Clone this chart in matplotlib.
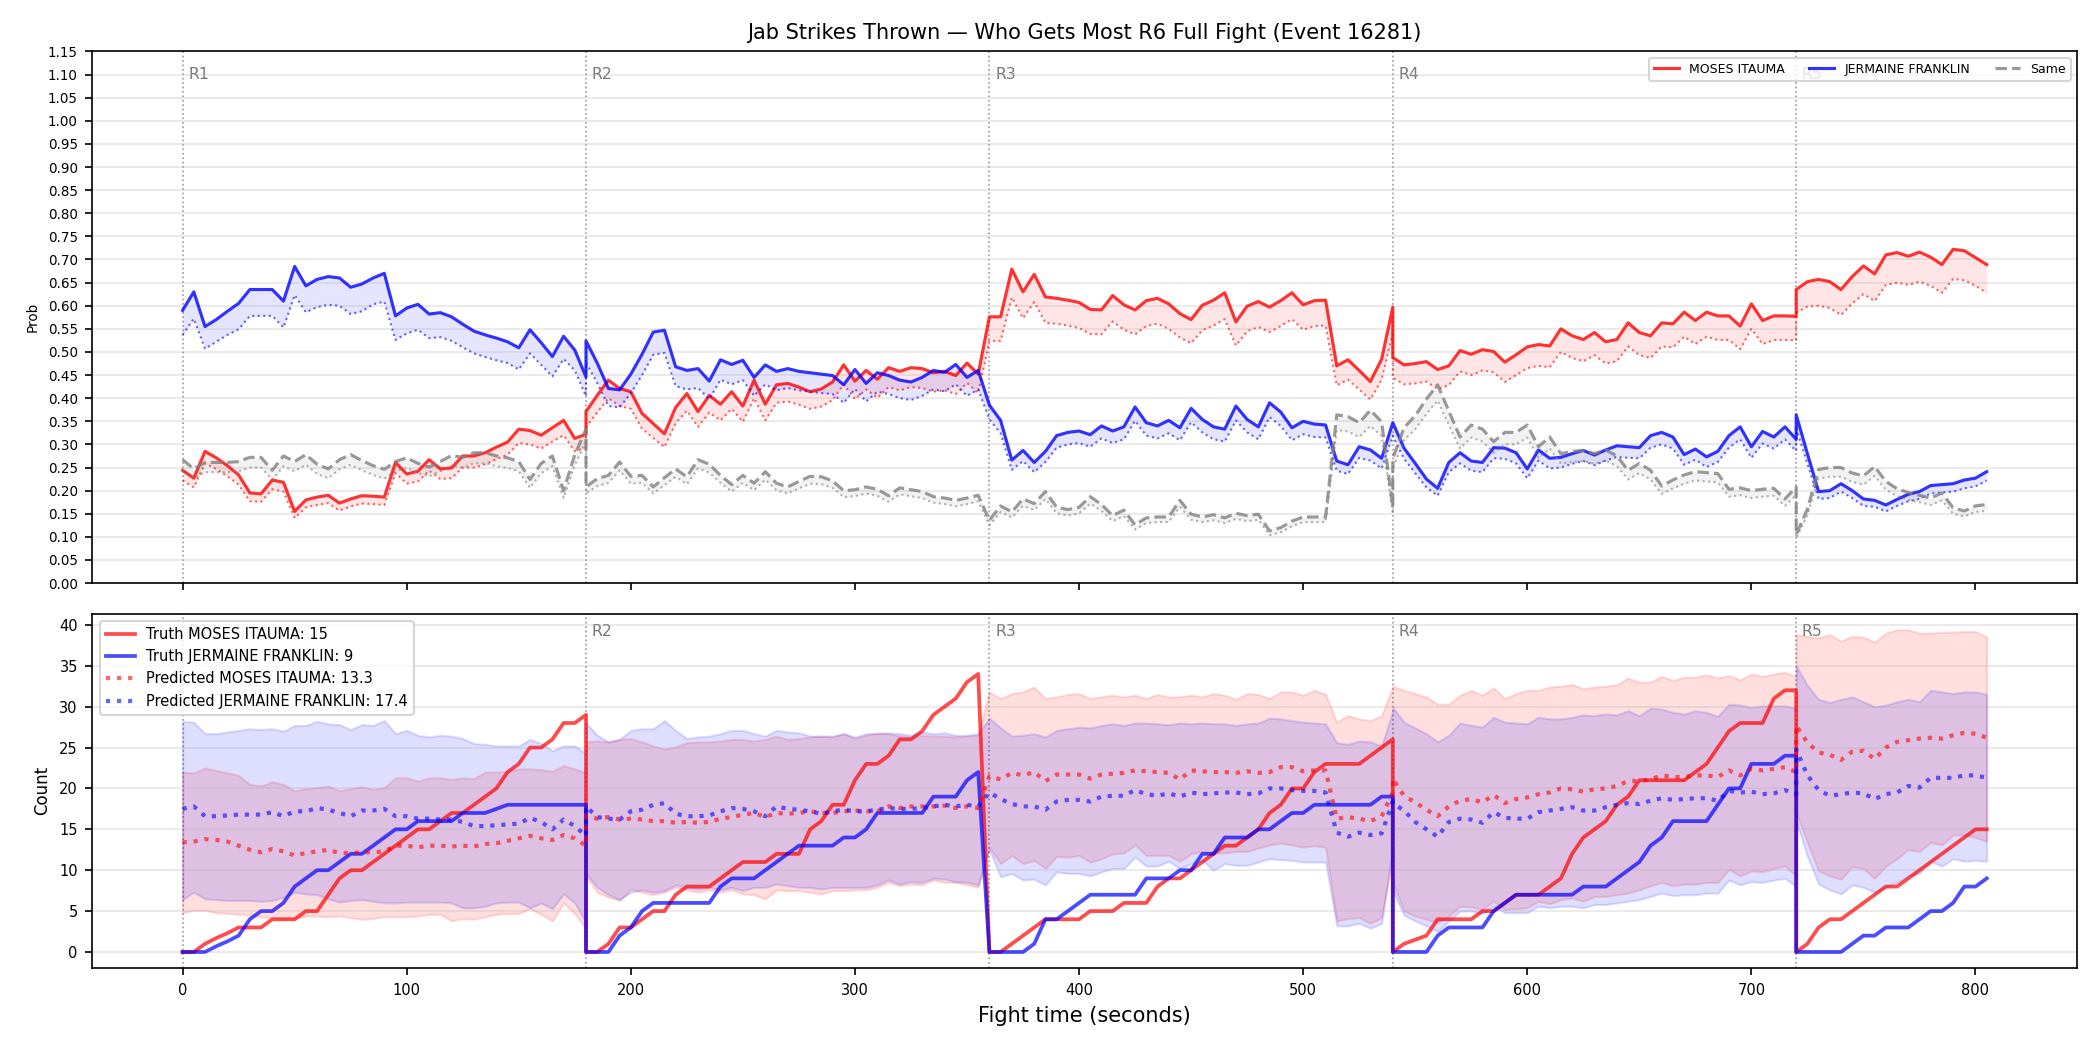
import numpy as np
import matplotlib
matplotlib.use("Agg")
import matplotlib.pyplot as plt
import matplotlib.transforms as mtransforms

title = "Jab Strikes Thrown \u2014 Who Gets Most R6 Full Fight (Event 16281)"
fighter_a = "MOSES ITAUMA"
fighter_b = "JERMAINE FRANKLIN"
final_truth_a, final_truth_b = 15, 9
final_pred_a, final_pred_b = 13.3, 17.4

# rounds start every 180 s, one sample every 5 s (round 2 stops at 355 s)
round_starts = [0, 180, 360, 540, 720]
round_sizes = [37, 36, 37, 37, 18]
step = 5

# ---- win probability (top panel) ----
prob_a = [
    # R1
    0.244, 0.227, 0.285, 0.271, 0.254, 0.234, 0.195, 0.193, 0.223, 0.218, 0.155, 0.180, 0.186,
    0.190, 0.173, 0.182, 0.189, 0.188, 0.186, 0.261, 0.236, 0.242, 0.267, 0.247, 0.249, 0.275,
    0.275, 0.282, 0.294, 0.305, 0.333, 0.330, 0.320, 0.336, 0.352, 0.313, 0.322,
    # R2
    0.371, 0.406, 0.439, 0.421, 0.414, 0.367, 0.345, 0.323, 0.380, 0.410, 0.371, 0.406, 0.387,
    0.414, 0.383, 0.439, 0.387, 0.429, 0.432, 0.424, 0.414, 0.420, 0.435, 0.472, 0.437, 0.460,
    0.441, 0.466, 0.458, 0.466, 0.464, 0.455, 0.458, 0.449, 0.476, 0.452,
    # R3
    0.576, 0.576, 0.679, 0.630, 0.668, 0.619, 0.616, 0.612, 0.607, 0.592, 0.591, 0.622, 0.602,
    0.591, 0.611, 0.616, 0.604, 0.583, 0.570, 0.601, 0.612, 0.628, 0.565, 0.599, 0.609, 0.597,
    0.611, 0.628, 0.602, 0.611, 0.612, 0.470, 0.483, 0.460, 0.436, 0.484, 0.597,
    # R4
    0.488, 0.472, 0.475, 0.479, 0.462, 0.470, 0.503, 0.495, 0.505, 0.501, 0.478, 0.494, 0.511,
    0.516, 0.513, 0.550, 0.535, 0.527, 0.542, 0.522, 0.527, 0.563, 0.542, 0.535, 0.563, 0.561,
    0.586, 0.568, 0.586, 0.578, 0.578, 0.556, 0.604, 0.568, 0.578, 0.578, 0.577,
    # R5
    0.635, 0.652, 0.657, 0.652, 0.635, 0.663, 0.686, 0.669, 0.710, 0.715, 0.707, 0.716, 0.705,
    0.689, 0.722, 0.719, 0.704, 0.689,
]
prob_a_low = [
    0.222, 0.207, 0.259, 0.247, 0.231, 0.213, 0.177, 0.176, 0.203, 0.198, 0.141, 0.164, 0.169,
    0.173, 0.157, 0.166, 0.172, 0.171, 0.169, 0.238, 0.215, 0.220, 0.243, 0.225, 0.227, 0.250,
    0.250, 0.257, 0.268, 0.278, 0.303, 0.300, 0.291, 0.306, 0.320, 0.285, 0.293,
    0.338, 0.369, 0.400, 0.383, 0.377, 0.334, 0.314, 0.294, 0.346, 0.373, 0.338, 0.369, 0.352,
    0.377, 0.349, 0.400, 0.352, 0.390, 0.393, 0.386, 0.377, 0.382, 0.396, 0.430, 0.398, 0.419,
    0.401, 0.424, 0.417, 0.424, 0.422, 0.414, 0.417, 0.409, 0.433, 0.411,
    0.524, 0.524, 0.618, 0.573, 0.608, 0.563, 0.561, 0.557, 0.552, 0.539, 0.538, 0.566, 0.548,
    0.538, 0.556, 0.561, 0.550, 0.531, 0.519, 0.547, 0.557, 0.571, 0.514, 0.545, 0.554, 0.543,
    0.556, 0.571, 0.548, 0.556, 0.557, 0.428, 0.440, 0.419, 0.397, 0.440, 0.543,
    0.444, 0.430, 0.432, 0.436, 0.420, 0.428, 0.458, 0.450, 0.460, 0.456, 0.435, 0.450, 0.465,
    0.470, 0.467, 0.500, 0.487, 0.480, 0.493, 0.475, 0.480, 0.512, 0.493, 0.487, 0.512, 0.510,
    0.533, 0.517, 0.533, 0.526, 0.526, 0.506, 0.550, 0.517, 0.526, 0.526, 0.525,
    0.585, 0.598, 0.600, 0.595, 0.580, 0.605, 0.625, 0.610, 0.645, 0.650, 0.645, 0.652, 0.643,
    0.628, 0.658, 0.655, 0.643, 0.628,
]
prob_b = [
    0.590, 0.630, 0.555, 0.570, 0.588, 0.605, 0.635, 0.635, 0.635, 0.610, 0.685, 0.643, 0.657,
    0.663, 0.660, 0.640, 0.647, 0.660, 0.670, 0.578, 0.595, 0.603, 0.582, 0.585, 0.576, 0.560,
    0.545, 0.537, 0.530, 0.522, 0.509, 0.548, 0.520, 0.490, 0.534, 0.504, 0.446,
    0.524, 0.476, 0.421, 0.418, 0.452, 0.495, 0.543, 0.547, 0.468, 0.460, 0.464, 0.437, 0.483,
    0.473, 0.482, 0.445, 0.472, 0.458, 0.464, 0.458, 0.455, 0.452, 0.449, 0.429, 0.462, 0.432,
    0.455, 0.449, 0.439, 0.435, 0.445, 0.460, 0.456, 0.473, 0.445, 0.460,
    0.385, 0.352, 0.266, 0.287, 0.261, 0.285, 0.319, 0.326, 0.329, 0.321, 0.340, 0.329, 0.338,
    0.381, 0.347, 0.340, 0.352, 0.336, 0.378, 0.354, 0.338, 0.333, 0.383, 0.354, 0.338, 0.390,
    0.370, 0.336, 0.350, 0.344, 0.342, 0.264, 0.256, 0.295, 0.288, 0.270, 0.347,
    0.347, 0.292, 0.259, 0.225, 0.205, 0.261, 0.282, 0.264, 0.261, 0.293, 0.292, 0.282, 0.247,
    0.288, 0.270, 0.272, 0.280, 0.287, 0.277, 0.288, 0.297, 0.295, 0.293, 0.319, 0.326, 0.316,
    0.278, 0.290, 0.273, 0.285, 0.319, 0.338, 0.295, 0.328, 0.316, 0.338, 0.311,
    0.364, 0.280, 0.198, 0.200, 0.215, 0.200, 0.182, 0.179, 0.169, 0.181, 0.192, 0.198, 0.211,
    0.213, 0.215, 0.223, 0.227, 0.241,
]
prob_b_low = [
    0.537, 0.572, 0.507, 0.522, 0.537, 0.549, 0.578, 0.578, 0.578, 0.553, 0.623, 0.586, 0.597,
    0.602, 0.600, 0.582, 0.588, 0.603, 0.609, 0.526, 0.540, 0.548, 0.530, 0.532, 0.524, 0.510,
    0.497, 0.489, 0.482, 0.476, 0.462, 0.497, 0.472, 0.447, 0.485, 0.460, 0.404,
    0.477, 0.433, 0.383, 0.380, 0.411, 0.450, 0.494, 0.498, 0.426, 0.419, 0.422, 0.398, 0.440,
    0.430, 0.439, 0.405, 0.430, 0.417, 0.422, 0.417, 0.414, 0.411, 0.409, 0.390, 0.420, 0.393,
    0.414, 0.409, 0.400, 0.396, 0.405, 0.419, 0.415, 0.430, 0.405, 0.419,
    0.354, 0.324, 0.245, 0.264, 0.240, 0.262, 0.293, 0.300, 0.303, 0.295, 0.313, 0.303, 0.311,
    0.351, 0.319, 0.313, 0.324, 0.309, 0.348, 0.326, 0.311, 0.306, 0.352, 0.326, 0.311, 0.359,
    0.340, 0.309, 0.322, 0.316, 0.315, 0.243, 0.236, 0.271, 0.265, 0.248, 0.319,
    0.319, 0.269, 0.238, 0.207, 0.189, 0.240, 0.259, 0.243, 0.240, 0.270, 0.269, 0.259, 0.227,
    0.265, 0.248, 0.250, 0.258, 0.264, 0.255, 0.265, 0.273, 0.271, 0.270, 0.293, 0.300, 0.291,
    0.256, 0.267, 0.251, 0.262, 0.293, 0.311, 0.271, 0.302, 0.291, 0.311, 0.286,
    0.335, 0.258, 0.182, 0.184, 0.198, 0.184, 0.167, 0.165, 0.155, 0.167, 0.177, 0.182, 0.194,
    0.196, 0.198, 0.205, 0.209, 0.222,
]
prob_same = [
    0.267, 0.247, 0.261, 0.261, 0.261, 0.263, 0.272, 0.272, 0.244, 0.275, 0.263, 0.278, 0.257,
    0.247, 0.267, 0.278, 0.265, 0.254, 0.246, 0.263, 0.271, 0.259, 0.251, 0.263, 0.276, 0.272,
    0.282, 0.282, 0.275, 0.271, 0.263, 0.224, 0.259, 0.275, 0.200, 0.278, 0.333,
    0.208, 0.226, 0.233, 0.262, 0.231, 0.233, 0.208, 0.228, 0.247, 0.230, 0.267, 0.257, 0.233,
    0.213, 0.233, 0.216, 0.241, 0.216, 0.208, 0.220, 0.231, 0.230, 0.221, 0.200, 0.202, 0.208,
    0.203, 0.189, 0.206, 0.202, 0.198, 0.187, 0.184, 0.179, 0.184, 0.190,
    0.136, 0.167, 0.154, 0.182, 0.172, 0.198, 0.164, 0.159, 0.164, 0.187, 0.170, 0.146, 0.158,
    0.126, 0.141, 0.143, 0.143, 0.179, 0.149, 0.143, 0.148, 0.141, 0.151, 0.146, 0.149, 0.113,
    0.120, 0.134, 0.143, 0.143, 0.143, 0.364, 0.360, 0.347, 0.374, 0.349, 0.165,
    0.270, 0.336, 0.362, 0.398, 0.429, 0.372, 0.316, 0.342, 0.333, 0.306, 0.326, 0.326, 0.342,
    0.295, 0.316, 0.280, 0.285, 0.287, 0.280, 0.288, 0.275, 0.244, 0.259, 0.244, 0.210, 0.223,
    0.234, 0.241, 0.239, 0.237, 0.203, 0.206, 0.200, 0.203, 0.205, 0.182, 0.208,
    0.105, 0.160, 0.246, 0.250, 0.250, 0.238, 0.232, 0.252, 0.220, 0.204, 0.196, 0.190, 0.184,
    0.195, 0.163, 0.156, 0.167, 0.170,
]
prob_same_low = [
    0.245, 0.227, 0.240, 0.240, 0.240, 0.242, 0.250, 0.250, 0.224, 0.253, 0.242, 0.256, 0.236,
    0.227, 0.246, 0.256, 0.244, 0.234, 0.226, 0.242, 0.249, 0.238, 0.231, 0.242, 0.254, 0.250,
    0.259, 0.259, 0.253, 0.249, 0.242, 0.206, 0.238, 0.253, 0.184, 0.256, 0.306,
    0.194, 0.210, 0.217, 0.244, 0.215, 0.217, 0.194, 0.212, 0.230, 0.214, 0.248, 0.239, 0.217,
    0.198, 0.217, 0.201, 0.224, 0.201, 0.194, 0.205, 0.215, 0.214, 0.206, 0.186, 0.188, 0.194,
    0.189, 0.176, 0.192, 0.188, 0.184, 0.174, 0.171, 0.166, 0.171, 0.177,
    0.125, 0.154, 0.142, 0.167, 0.158, 0.182, 0.151, 0.146, 0.151, 0.172, 0.156, 0.134, 0.145,
    0.116, 0.130, 0.132, 0.132, 0.165, 0.137, 0.132, 0.136, 0.130, 0.139, 0.134, 0.137, 0.104,
    0.110, 0.123, 0.132, 0.132, 0.132, 0.331, 0.328, 0.316, 0.340, 0.318, 0.150,
    0.248, 0.309, 0.333, 0.366, 0.395, 0.342, 0.291, 0.315, 0.306, 0.282, 0.300, 0.300, 0.315,
    0.271, 0.291, 0.258, 0.262, 0.264, 0.258, 0.265, 0.253, 0.224, 0.238, 0.224, 0.193, 0.205,
    0.215, 0.222, 0.220, 0.218, 0.187, 0.190, 0.184, 0.187, 0.189, 0.167, 0.191,
    0.097, 0.147, 0.226, 0.230, 0.230, 0.219, 0.213, 0.232, 0.202, 0.188, 0.180, 0.175, 0.169,
    0.179, 0.150, 0.144, 0.154, 0.156,
]

# ---- cumulative jab counts (bottom panel) ----
truth_a = [
    0, 0, 1, 1.7, 2.3, 3, 3, 3, 4, 4, 4, 5, 5, 7, 9, 10, 10, 11, 12, 13, 14, 15, 15, 16, 17, 17,
    18, 19, 20, 22, 23, 25, 25, 26, 28, 28, 29,
    0, 0, 1, 3, 3, 4, 5, 5, 7, 8, 8, 8, 9, 10, 11, 11, 11, 12, 12, 12, 15, 16, 18, 18, 21, 23,
    23, 24, 26, 26, 27, 29, 30, 31, 33, 34,
    0, 0, 1, 2, 3, 4, 4, 4, 4, 5, 5, 5, 6, 6, 6, 8, 9, 9, 10, 11, 12, 13, 13, 14, 15, 17, 18,
    20, 20, 22, 23, 23, 23, 23, 24, 25, 26,
    0, 1, 1.5, 2, 4, 4, 4, 4, 5, 5, 6, 7, 7, 7, 8, 9, 12, 14, 15, 16, 18, 19, 21, 21, 21, 21,
    21, 22, 23, 25, 27, 28, 28, 28, 31, 32, 32,
    0, 1, 3, 4, 4, 5, 6, 7, 8, 8, 9, 10, 11, 12, 13, 14, 15, 15,
]
truth_b = [
    0, 0, 0, 0.7, 1.3, 2, 4, 5, 5, 6, 8, 9, 10, 10, 11, 12, 12, 13, 14, 15, 15, 16, 16, 16, 16,
    17, 17, 17, 17.5, 18, 18, 18, 18, 18, 18, 18, 18,
    0, 0, 0, 2, 3, 5, 6, 6, 6, 6, 6, 6, 8, 9, 9, 9, 10, 11, 12, 13, 13, 13, 13, 14, 14, 15, 17,
    17, 17, 17, 17, 19, 19, 19, 21, 22,
    0, 0, 0, 0, 1, 4, 4, 5, 6, 7, 7, 7, 7, 7, 9, 9, 9, 10, 10, 12, 12, 14, 14, 14, 15, 15, 16,
    17, 17, 18, 18, 18, 18, 18, 18, 19, 19,
    0, 0, 0, 0, 2, 3, 3, 3, 3, 5, 6, 7, 7, 7, 7, 7, 7, 8, 8, 8, 9, 10, 11, 13, 14, 16, 16, 16,
    16, 18, 20, 20, 23, 23, 23, 24, 24,
    0, 0, 0, 0, 0, 1, 2, 2, 3, 3, 3, 4, 5, 5, 6, 8, 8, 9,
]
pred_a = [
    13.4, 13.5, 13.8, 13.7, 13.5, 13.0, 12.5, 12.2, 12.6, 12.3, 11.8, 12.1, 12.3, 12.5, 12.1,
    12.1, 12.2, 12.2, 12.3, 13.0, 13.0, 12.8, 13.0, 13.0, 12.9, 13.0, 12.9, 13.2, 13.3, 13.6,
    13.9, 14.2, 13.9, 13.7, 14.3, 13.9, 13.0,
    16.6, 16.3, 16.5, 16.2, 16.3, 16.2, 16.0, 16.0, 15.8, 15.9, 15.8, 15.9, 16.3, 16.5, 16.8,
    17.0, 16.5, 17.0, 16.9, 17.0, 17.2, 17.0, 17.0, 17.2, 17.3, 17.2, 17.2, 17.8, 17.6, 17.8,
    17.8, 17.8, 17.9, 17.6, 17.8, 17.6,
    21.5, 21.1, 21.9, 21.6, 22.0, 20.9, 21.7, 21.7, 21.7, 21.2, 21.7, 21.8, 21.9, 22.2, 22.1,
    22.0, 21.9, 21.1, 22.2, 22.1, 22.0, 22.0, 21.9, 22.1, 21.9, 22.0, 22.6, 22.6, 22.1, 22.2,
    22.2, 16.3, 16.5, 16.3, 16.0, 16.6, 19.5,
    21.2, 19.1, 18.3, 17.4, 16.6, 17.8, 18.5, 18.7, 18.3, 19.2, 18.2, 18.7, 18.9, 19.3, 19.5,
    20.0, 19.9, 19.6, 19.9, 20.0, 20.3, 20.9, 20.9, 21.1, 21.6, 21.4, 21.4, 21.6, 21.6, 21.4,
    22.2, 21.6, 22.4, 22.2, 22.4, 22.6, 22.0,
    27.7, 25.6, 24.4, 24.1, 23.5, 24.5, 24.6, 23.6, 25.0, 25.7, 25.9, 26.1, 26.2, 26.1, 26.5,
    26.8, 26.7, 26.2,
]
pred_b = [
    17.5, 17.8, 16.6, 16.6, 16.7, 16.8, 16.8, 16.8, 17.1, 16.6, 17.2, 17.2, 17.6, 17.4, 17.0,
    16.6, 17.3, 17.3, 17.5, 16.6, 16.6, 16.3, 16.3, 16.2, 16.2, 15.9, 15.4, 15.4, 15.5, 15.6,
    15.7, 16.4, 15.9, 15.0, 16.2, 15.4, 14.2,
    17.8, 16.5, 16.3, 16.2, 17.2, 17.4, 18.0, 18.2, 16.9, 16.6, 16.6, 16.7, 17.2, 17.6, 17.5,
    17.2, 16.6, 17.8, 17.5, 17.4, 17.2, 16.9, 17.2, 17.4, 17.2, 17.2, 17.4, 17.6, 17.5, 17.5,
    17.6, 17.8, 18.0, 17.8, 18.0, 17.8,
    19.5, 18.7, 18.1, 17.8, 17.8, 17.4, 18.4, 18.6, 18.6, 18.4, 19.0, 19.1, 19.1, 19.8, 19.3,
    19.1, 19.4, 19.0, 19.5, 19.3, 19.4, 19.5, 19.5, 19.3, 19.4, 20.0, 20.0, 19.8, 19.7, 19.7,
    19.5, 14.6, 14.1, 14.6, 14.3, 14.5, 18.4,
    18.2, 17.3, 15.9, 15.0, 14.1, 15.9, 16.3, 16.2, 15.8, 17.1, 16.4, 16.3, 16.3, 17.1, 17.3,
    17.5, 17.7, 17.3, 17.3, 17.7, 18.0, 18.2, 18.1, 18.5, 18.8, 18.6, 18.7, 18.8, 18.8, 18.5,
    19.7, 19.5, 19.6, 19.3, 19.4, 19.8, 19.3,
    24.8, 21.6, 19.8, 19.1, 19.3, 19.5, 19.4, 18.7, 19.3, 19.5, 20.3, 20.1, 21.3, 21.3, 21.3,
    21.6, 21.6, 21.3,
]
band_a_high = [
    22.0, 21.9, 22.5, 22.2, 21.9, 21.6, 20.5, 20.3, 20.8, 20.5, 19.7, 20.0, 20.1, 20.3, 19.7,
    20.0, 20.2, 19.9, 20.1, 21.3, 21.3, 20.9, 21.3, 21.3, 21.1, 21.3, 21.2, 22.0, 22.0, 22.1,
    22.4, 22.4, 22.3, 22.1, 22.8, 22.4, 21.9,
    25.7, 25.8, 25.7, 26.0, 26.1, 25.7, 25.2, 24.8, 25.1, 25.6, 25.7, 25.7, 25.8, 26.0, 26.0,
    25.8, 26.0, 26.4, 26.0, 26.1, 26.3, 26.4, 26.3, 26.7, 26.1, 26.5, 26.8, 26.7, 26.4, 26.3,
    26.5, 26.4, 26.4, 26.3, 26.4, 26.5,
    31.8, 31.0, 31.6, 31.8, 32.4, 31.0, 31.2, 31.5, 31.6, 31.0, 31.2, 31.4, 31.2, 31.4, 31.0,
    31.5, 31.2, 31.2, 31.4, 31.2, 31.6, 31.4, 30.9, 31.6, 31.5, 31.0, 31.8, 31.8, 31.4, 32.0,
    31.5, 28.1, 28.9, 28.5, 28.3, 28.9, 32.4,
    32.5, 32.0, 31.6, 31.2, 30.3, 30.3, 31.4, 32.0, 31.4, 32.3, 31.0, 31.6, 32.0, 32.0, 32.4,
    32.5, 32.7, 32.2, 32.4, 32.5, 32.7, 33.5, 33.0, 33.0, 33.7, 33.2, 33.6, 33.6, 33.9, 33.5,
    33.8, 33.3, 34.0, 33.7, 34.0, 34.2, 33.7,
    38.8, 38.6, 38.4, 38.8, 38.0, 38.6, 38.5, 37.9, 39.0, 39.4, 39.4, 39.0, 39.0, 39.1, 39.1,
    39.2, 39.2, 38.5,
]
band_a_low = [
    4.8, 5.1, 5.1, 4.8, 4.7, 4.6, 4.5, 4.3, 4.2, 4.1, 4.1, 4.4, 4.4, 4.3, 4.4, 4.2, 4.0, 4.1,
    4.3, 4.3, 4.3, 4.4, 4.6, 4.6, 3.8, 4.1, 4.0, 4.3, 4.6, 4.7, 4.7, 5.3, 4.6, 3.8, 6.0, 4.7, 2.8,
    9.3, 7.3, 6.7, 6.3, 7.7, 7.3, 7.0, 7.3, 7.9, 7.6, 7.3, 7.6, 7.3, 7.6, 7.1, 7.0, 6.5, 7.6,
    7.5, 7.5, 7.3, 7.1, 7.5, 7.5, 7.6, 7.6, 7.9, 8.5, 8.1, 8.3, 8.2, 8.8, 8.5, 8.5, 8.2, 7.9,
    12.8, 10.8, 11.8, 10.8, 11.2, 10.2, 11.7, 11.6, 11.8, 11.0, 11.4, 12.0, 12.1, 13.1, 11.8,
    11.8, 11.8, 11.1, 12.0, 12.3, 12.1, 12.1, 12.3, 12.3, 12.7, 13.1, 13.3, 13.1, 12.8, 13.0,
    12.8, 3.8, 4.1, 4.2, 3.5, 4.2, 11.7,
    8.5, 5.0, 4.4, 4.0, 3.6, 4.4, 5.6, 5.5, 5.2, 6.2, 5.2, 5.3, 5.4, 6.2, 5.9, 6.4, 6.6, 6.2,
    6.8, 6.8, 7.0, 7.2, 7.6, 8.1, 8.5, 8.1, 8.3, 8.3, 8.5, 8.5, 10.1, 9.3, 9.9, 9.8, 10.2, 10.5,
    9.3,
    17.0, 13.4, 9.9, 9.3, 8.9, 10.4, 10.2, 9.0, 10.5, 11.4, 12.5, 12.3, 13.4, 13.1, 14.3, 14.3,
    14.0, 13.5,
]
band_b_high = [
    28.2, 28.1, 26.7, 26.7, 26.9, 27.1, 27.3, 27.2, 27.3, 27.0, 27.7, 27.7, 28.2, 27.9, 27.8,
    27.2, 27.8, 27.7, 28.3, 26.7, 27.1, 26.5, 26.3, 26.5, 26.4, 26.1, 25.5, 25.4, 25.2, 25.2,
    25.2, 26.0, 25.5, 24.6, 25.2, 25.2, 24.2,
    28.0, 26.5, 25.7, 26.0, 27.1, 27.3, 27.3, 28.3, 27.1, 26.1, 26.3, 26.4, 26.7, 27.1, 27.1,
    26.7, 26.4, 27.1, 26.9, 26.8, 26.4, 26.4, 26.4, 26.7, 26.3, 26.7, 26.7, 26.8, 26.7, 26.5,
    26.9, 26.7, 26.8, 26.5, 26.5, 26.7,
    28.6, 27.4, 26.4, 26.5, 26.7, 26.3, 27.1, 27.3, 27.5, 27.4, 27.7, 27.9, 27.7, 28.0, 28.0,
    27.9, 27.8, 28.0, 27.9, 28.0, 27.9, 27.9, 27.7, 27.9, 28.0, 28.6, 28.5, 28.3, 28.1, 28.0,
    27.9, 25.6, 25.4, 25.8, 25.7, 25.2, 29.5,
    29.9, 28.1, 27.4, 26.7, 25.7, 26.5, 28.0, 27.7, 27.5, 28.7, 28.1, 28.0, 27.9, 28.7, 28.5,
    28.5, 28.7, 29.0, 28.9, 29.1, 29.0, 29.5, 28.9, 29.8, 29.7, 29.3, 29.1, 29.5, 29.3, 28.8,
    30.3, 30.2, 29.9, 30.1, 30.1, 30.1, 29.8,
    35.0, 32.6, 30.9, 30.5, 30.9, 31.2, 30.6, 30.0, 30.2, 30.6, 30.9, 30.6, 32.0, 31.8, 31.6,
    31.8, 31.8, 31.5,
]
band_b_low = [
    6.4, 7.3, 6.5, 6.4, 6.3, 6.3, 6.3, 6.2, 6.3, 6.7, 7.3, 7.1, 7.0, 6.5, 6.1, 6.3, 6.4, 6.2,
    6.0, 6.0, 6.1, 6.1, 6.1, 6.1, 6.0, 5.4, 5.4, 5.6, 6.0, 6.1, 6.1, 5.4, 6.0, 5.3, 7.1, 6.0, 3.6,
    9.6, 7.9, 7.0, 6.4, 7.3, 7.6, 7.3, 7.5, 8.2, 7.9, 7.7, 7.9, 7.6, 7.9, 7.5, 7.9, 7.9, 8.3,
    8.1, 7.9, 7.9, 7.7, 7.9, 7.9, 7.9, 7.9, 8.2, 8.8, 8.3, 8.6, 8.5, 9.0, 8.9, 8.6, 8.5, 8.2,
    12.5, 9.2, 9.6, 8.8, 8.9, 8.2, 9.8, 9.6, 9.6, 9.3, 9.8, 10.2, 10.2, 11.6, 10.5, 10.5, 11.1,
    10.2, 10.8, 11.2, 10.0, 10.8, 10.6, 10.6, 11.0, 11.4, 11.3, 11.2, 11.0, 11.0, 11.0, 3.2,
    3.2, 3.5, 2.9, 3.5, 12.8,
    7.5, 4.5, 3.8, 3.2, 2.5, 3.8, 5.0, 5.0, 4.7, 5.6, 4.8, 4.8, 4.8, 5.6, 5.4, 5.6, 5.6, 5.4,
    5.8, 5.8, 6.0, 6.2, 6.4, 6.8, 7.2, 6.9, 7.0, 7.0, 7.2, 7.2, 8.8, 8.2, 8.6, 8.5, 8.8, 9.0,
    8.0,
    16.0, 11.7, 8.3, 7.6, 7.1, 8.2, 7.9, 7.3, 7.9, 8.5, 9.3, 9.6, 11.1, 10.5, 11.4, 11.1, 11.2,
    11.1,
]

# sample times: each round restarts at its own start second
t = np.concatenate([s + step * np.arange(n) for s, n in zip(round_starts, round_sizes)])

RED, BLUE, GRAY = "red", "blue", "gray"

fig, (ax1, ax2) = plt.subplots(2, 1, figsize=(14, 7), dpi=150, sharex=True,
                               gridspec_kw={"height_ratios": [3, 2]})
fig.subplots_adjust(left=0.044, right=0.989, top=0.951, bottom=0.078, hspace=0.069)

# top: probabilities
for val, low, c, ls, lab in [(prob_a, prob_a_low, RED, "-", fighter_a),
                             (prob_b, prob_b_low, BLUE, "-", fighter_b),
                             (prob_same, prob_same_low, GRAY, "--", "Same")]:
    ax1.plot(t, val, color=c, ls=ls, lw=1.5, alpha=0.8, label=lab)
    ax1.plot(t, low, color=c, ls=":", lw=1.0, alpha=0.6)
    ax1.fill_between(t, low, val, color=c, alpha=0.1, lw=0)

ax1.set_ylim(0, 1.15)
ax1.set_yticks(np.arange(0, 1.1501, 0.05))
ax1.set_yticklabels([f"{v:.2f}" for v in np.arange(0, 1.1501, 0.05)])
ax1.set_ylabel("Prob", fontsize=6.5)
ax1.grid(axis="y", alpha=0.3)
ax1.legend(loc="upper right", ncol=3, fontsize=6)
ax1.set_title(title, fontsize=10)

# bottom: counts
ax2.fill_between(t, band_a_low, band_a_high, color=RED, alpha=0.13)
ax2.fill_between(t, band_b_low, band_b_high, color=BLUE, alpha=0.13)
ax2.plot(t, truth_a, color=RED, lw=1.8, alpha=0.7, label=f"Truth {fighter_a}: {final_truth_a}")
ax2.plot(t, truth_b, color=BLUE, lw=1.8, alpha=0.7, label=f"Truth {fighter_b}: {final_truth_b}")
ax2.plot(t, pred_a, color=RED, ls=":", lw=2, alpha=0.6, label=f"Predicted {fighter_a}: {final_pred_a}")
ax2.plot(t, pred_b, color=BLUE, ls=":", lw=2, alpha=0.6, label=f"Predicted {fighter_b}: {final_pred_b}")
ax2.set_ylabel("Count", fontsize=8)
ax2.set_xlabel("Fight time (seconds)", fontsize=10)
ax2.grid(axis="y", alpha=0.3)

for ax in (ax1, ax2):
    ax.tick_params(labelsize=7)
    trans = mtransforms.blended_transform_factory(ax.transData, ax.transAxes)
    for i, s in enumerate(round_starts):
        ax.axvline(s, color="gray", ls=":", lw=0.8, alpha=0.8, zorder=0)
        ax.text(s + 2.5, 0.97, f"R{i + 1}", transform=trans, va="top", ha="left",
                fontsize=7.5, color="dimgray", alpha=0.9, zorder=1)
ax1.tick_params(labelsize=6.5)

# legend drawn last so it sits over the R1 marker, as in the original
leg = ax2.legend(loc="upper left", fontsize=7)
leg.set_zorder(5)

fig.savefig("out.png", dpi=150)
